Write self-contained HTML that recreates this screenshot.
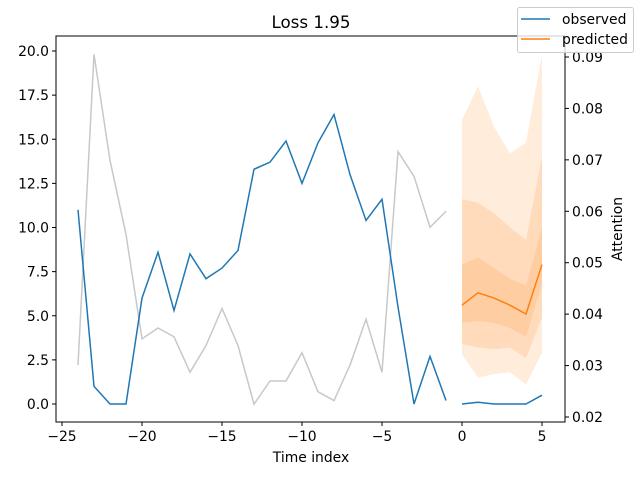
<!DOCTYPE html>
<html><head><meta charset="utf-8"><style>
body{margin:0;background:#fff}
svg{font-family:"DejaVu Sans","Liberation Sans",sans-serif;font-size:13.9px}
</style></head><body>
<svg id="chart" width="640" height="480"></svg>
<script>
const histT=[-24,-23,-22,-21,-20,-19,-18,-17,-16,-15,-14,-13,-12,-11,-10,-9,-8,-7,-6,-5,-4,-3,-2,-1];
const observedHist=[11.0,1.0,0.0,0.0,6.0,8.6,5.3,8.5,7.1,7.7,8.7,13.3,13.7,14.9,12.5,14.8,16.4,13.0,10.4,11.6,5.5,0.0,2.7,0.2];
const attention=[0.0301,0.0905,0.0699,0.0555,0.0352,0.0373,0.0356,0.0287,0.0339,0.0411,0.0339,0.0225,0.0270,0.0270,0.0325,0.0249,0.0232,0.0301,0.0390,0.0287,0.0716,0.0668,0.0569,0.0600];
const futT=[0,1,2,3,4,5];
const observedFut=[0.0,0.1,0.0,0.0,0.0,0.5];
const predicted=[5.6,6.3,6.0,5.6,5.1,7.9];
const outerUpper=[16.1,18.0,15.7,14.2,14.8,19.8];
const outerLower=[2.8,1.5,1.7,1.8,1.1,2.9];
const midUpper=[11.6,11.4,10.8,10.0,9.3,14.0];
const midLower=[3.4,3.2,3.1,3.2,2.6,4.9];
const innerUpper=[7.9,8.3,7.7,7.1,6.7,10.0];
const innerLower=[4.6,4.7,4.6,4.3,3.8,6.8];
const xTicks=[-25,-20,-15,-10,-5,0,5];
const yTicks=[0,2.5,5,7.5,10,12.5,15,17.5,20];
const y2Ticks=[0.02,0.03,0.04,0.05,0.06,0.07,0.08,0.09];

const NS="http://www.w3.org/2000/svg";
const svg=document.getElementById('chart');
const L=56,R=565,T=36,B=422;
const xs=t=>462+16*t;
const ys=v=>404-17.65*v;
const y2s=a=>417-(a-0.02)*5143;
function el(tag,attrs,parent){const e=document.createElementNS(NS,tag);for(const k in attrs)e.setAttribute(k,attrs[k]);(parent||svg).appendChild(e);return e;}
function pts(xa,ya,fx,fy){return xa.map((t,i)=>fx(t)+','+fy(ya[i])).join(' ');}

[[outerUpper,outerLower,'band-outer'],[midUpper,midLower,'band-mid'],[innerUpper,innerLower,'band-inner']].forEach(([u,l,n])=>{
  const p=futT.map((t,i)=>xs(t)+','+ys(u[i])).concat(futT.slice().reverse().map((t,j)=>{const i=futT.length-1-j;return xs(t)+','+ys(l[i]);})).join(' ');
  const e=el('polygon',{points:p,fill:'#ff7f0e','fill-opacity':0.15,stroke:'none'});
  
  
});
let g=el('polyline',{points:pts(histT,attention,xs,y2s),fill:'none',stroke:'#c8c8c8','stroke-width':1.5});


let o1=el('polyline',{points:pts(histT,observedHist,xs,ys),fill:'none',stroke:'#1f77b4','stroke-width':1.5});


let o2=el('polyline',{points:pts(futT,observedFut,xs,ys),fill:'none',stroke:'#1f77b4','stroke-width':1.5});


let pr=el('polyline',{points:pts(futT,predicted,xs,ys),fill:'none',stroke:'#ff7f0e','stroke-width':1.5});



let fr=el('rect',{x:L,y:T,width:R-L,height:B-T,fill:'none',stroke:'#000','stroke-width':1});



xTicks.forEach(t=>{
  el('line',{x1:xs(t),x2:xs(t),y1:B,y2:B+4,stroke:'#000'});
  const tx=el('text',{x:xs(t),y:B+19,'text-anchor':'middle'});tx.textContent=String(t).replace('-','\u2212');
  
  
});
yTicks.forEach(v=>{
  el('line',{x1:L-4,x2:L,y1:ys(v),y2:ys(v),stroke:'#000'});
  const tx=el('text',{x:L-7,y:ys(v)+5,'text-anchor':'end'});tx.textContent=v.toFixed(1);
  
  
});
y2Ticks.forEach(v=>{
  el('line',{x1:R,x2:R+4,y1:y2s(v),y2:y2s(v),stroke:'#000'});
  const tx=el('text',{x:R+7,y:y2s(v)+5,'text-anchor':'start'});tx.textContent=v.toFixed(2);
  
  
});
let ti=el('text',{x:311,y:28,'text-anchor':'middle','font-size':16.7});ti.textContent='Loss 1.95';


let xl=el('text',{x:311,y:462,'text-anchor':'middle'});xl.textContent='Time index';


let yl=el('text',{x:0,y:0,'text-anchor':'middle',transform:'translate(622,229) rotate(-90)'});yl.textContent='Attention';



const lg=el('g',{});


el('rect',{x:517.5,y:7.5,width:116,height:45,rx:2,fill:'#fff','fill-opacity':0.8,stroke:'#ccc'},lg);
el('line',{x1:521,x2:550,y1:19,y2:19,stroke:'#1f77b4','stroke-width':1.5},lg);
el('line',{x1:521,x2:550,y1:39,y2:39,stroke:'#ff7f0e','stroke-width':1.5},lg);
let l1=el('text',{x:562,y:24},lg);l1.textContent='observed';


let l2=el('text',{x:562,y:44},lg);l2.textContent='predicted';


</script>
</body></html>
